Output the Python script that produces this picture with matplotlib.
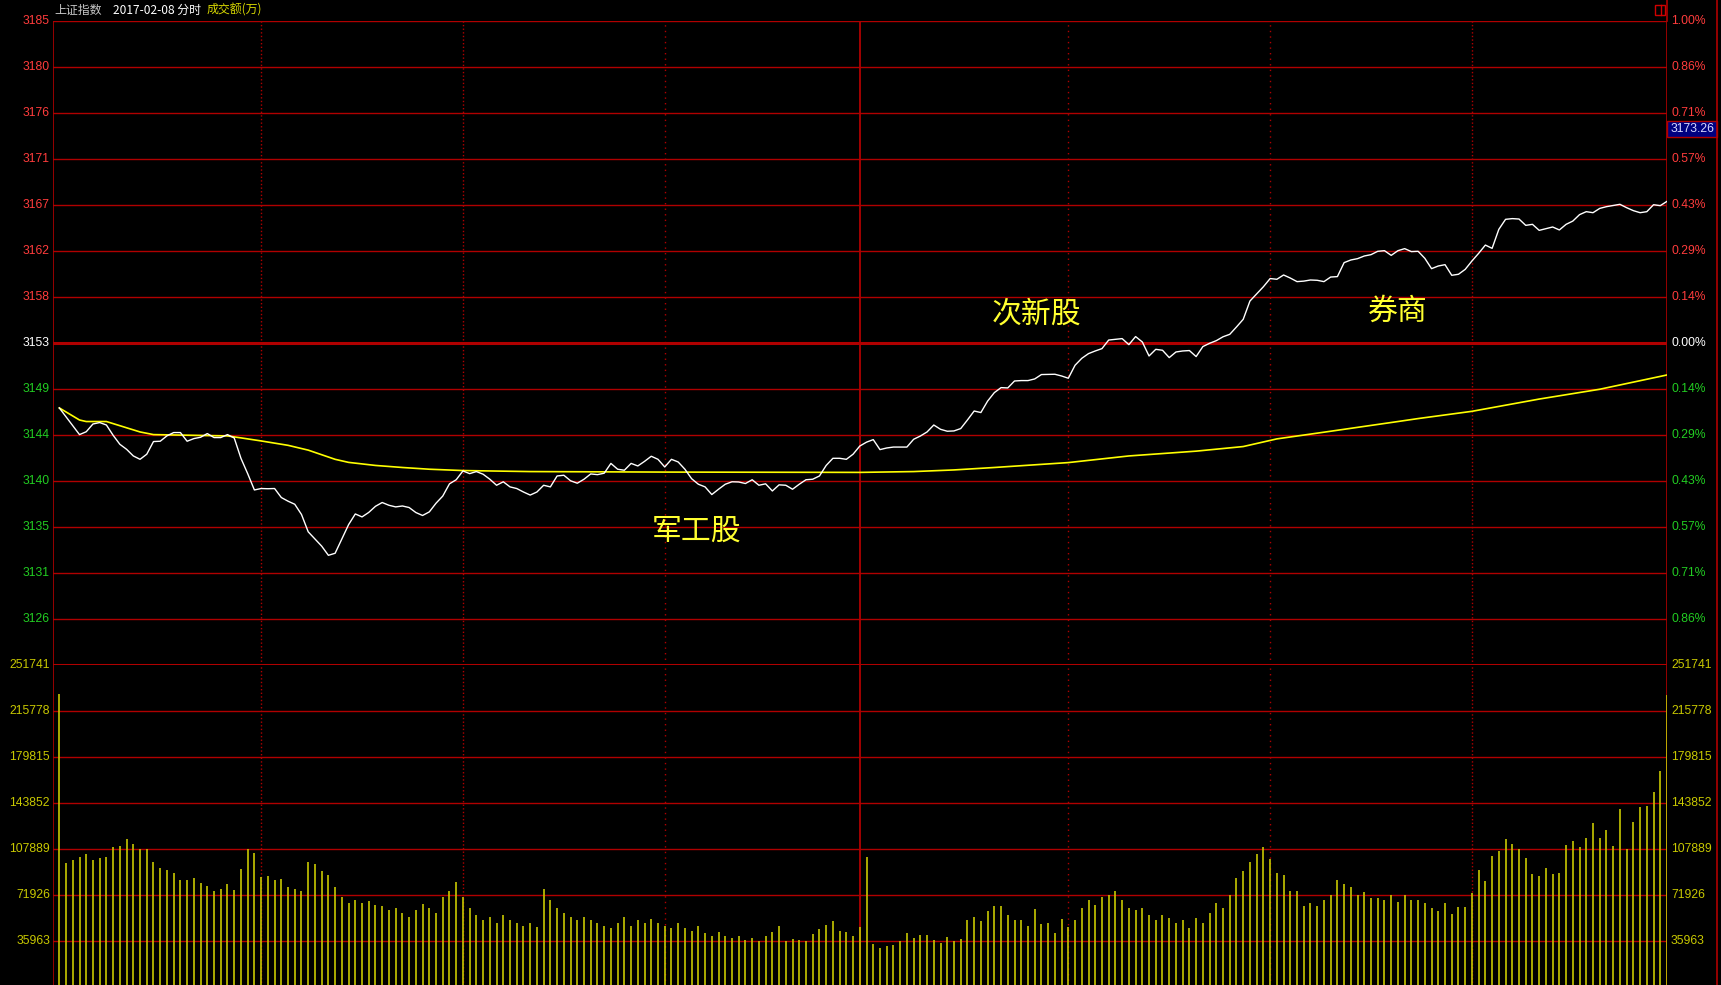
import matplotlib
matplotlib.use('Agg')
import matplotlib.pyplot as plt
from matplotlib.patches import Rectangle

W, H = 1721, 985

pre_close = 3153.09
step = pre_close * 0.01 / 7
vol_step = 35963

price_labels = ['3185', '3180', '3176', '3171', '3167', '3162', '3158', '3153',
                '3149', '3144', '3140', '3135', '3131', '3126']
pct_labels = ['1.00%', '0.86%', '0.71%', '0.57%', '0.43%', '0.29%', '0.14%', '0.00%',
              '0.14%', '0.29%', '0.43%', '0.57%', '0.71%', '0.86%']
vol_labels = ['251741', '215778', '179815', '143852', '107889', '71926', '35963']

# minute index (0..239) and index value
price_min = [0, 3, 4, 5, 6, 7, 8, 9, 10, 11, 12, 13, 14, 15, 16, 17, 18, 19, 20, 21, 22, 23, 24, 25,
             26, 27, 28, 29, 30, 31, 32, 33, 34, 35, 36, 37, 38, 39, 40, 41, 42, 43, 44, 45, 46,
             47, 48, 49, 50, 51, 52, 53, 54, 55, 56, 57, 58, 59, 60, 61, 62, 63, 64, 65, 66, 67,
             68, 69, 70, 71, 72, 73, 74, 75, 76, 77, 78, 79, 80, 81, 82, 83, 84, 85, 86, 87, 88,
             89, 90, 91, 92, 93, 94, 95, 96, 97, 98, 99, 100, 101, 102, 103, 104, 105, 106, 107,
             108, 109, 110, 111, 112, 113, 114, 115, 116, 117, 118, 119, 120, 121, 122, 123, 124,
             126, 127, 128, 129, 130, 131, 132, 133, 134, 135, 136, 137, 138, 139, 140, 141, 142,
             143, 144, 145, 146, 148, 149, 150, 151, 152, 153, 154, 155, 156, 157, 158, 159, 160,
             161, 162, 163, 164, 165, 166, 167, 168, 169, 170, 171, 172, 173, 174, 175, 176, 177,
             178, 179, 180, 181, 182, 183, 184, 185, 186, 187, 188, 189, 190, 191, 192, 193, 194,
             195, 196, 197, 198, 199, 200, 201, 202, 203, 204, 205, 206, 207, 208, 209, 210, 211,
             212, 213, 214, 215, 216, 217, 218, 219, 220, 221, 222, 223, 224, 225, 226, 227, 228,
             229, 230, 231, 232, 233, 234, 235, 236, 237, 238, 239]
price_val = [3146.73, 3144.12, 3144.40, 3145.16, 3145.30, 3145.06, 3144.05, 3143.17, 3142.68,
             3142.03, 3141.70, 3142.20, 3143.44, 3143.47, 3144.00, 3144.32, 3144.32, 3143.47,
             3143.73, 3143.86, 3144.22, 3143.83, 3143.83, 3144.12, 3143.79, 3141.80, 3140.30,
             3138.70, 3138.84, 3138.82, 3138.84, 3137.96, 3137.60, 3137.30, 3136.30, 3134.60,
             3133.90, 3133.20, 3132.30, 3132.50, 3133.90, 3135.30, 3136.35, 3136.06, 3136.50,
             3137.10, 3137.47, 3137.20, 3137.04, 3137.13, 3136.98, 3136.49, 3136.20, 3136.55,
             3137.40, 3138.10, 3139.30, 3139.70, 3140.56, 3140.30, 3140.50, 3140.24, 3139.75,
             3139.16, 3139.50, 3139.00, 3138.84, 3138.50, 3138.20, 3138.50, 3139.16, 3139.00,
             3140.07, 3140.14, 3139.60, 3139.36, 3139.75, 3140.27, 3140.20, 3140.34, 3141.30,
             3140.73, 3140.63, 3141.30, 3141.05, 3141.50, 3142.00, 3141.70, 3140.95, 3141.70,
             3141.44, 3140.73, 3139.80, 3139.26, 3139.00, 3138.25, 3138.77, 3139.26, 3139.50,
             3139.48, 3139.33, 3139.70, 3139.16, 3139.30, 3138.60, 3139.20, 3139.16, 3138.77,
             3139.26, 3139.70, 3139.75, 3140.07, 3141.10, 3141.80, 3141.80, 3141.70, 3142.20,
             3143.00, 3143.38, 3143.63, 3142.65, 3142.81, 3142.90, 3142.90, 3143.66, 3143.98,
             3144.38, 3145.06, 3144.64, 3144.45, 3144.48, 3144.71, 3145.55, 3146.43, 3146.28,
             3147.40, 3148.23, 3148.72, 3148.69, 3149.37, 3149.41, 3149.41, 3149.57, 3150.00,
             3150.03, 3149.86, 3149.64, 3150.91, 3151.59, 3152.05, 3152.31, 3152.54, 3153.38,
             3153.45, 3153.52, 3152.93, 3153.72, 3153.19, 3151.82, 3152.47, 3152.38, 3151.66,
             3152.21, 3152.31, 3152.35, 3151.76, 3152.74, 3153.06, 3153.32, 3153.70, 3153.94,
             3154.66, 3155.41, 3157.20, 3157.90, 3158.60, 3159.40, 3159.33, 3159.75, 3159.45,
             3159.10, 3159.15, 3159.26, 3159.23, 3159.10, 3159.55, 3159.59, 3160.96, 3161.22,
             3161.35, 3161.61, 3161.74, 3162.07, 3162.13, 3161.67, 3162.13, 3162.33, 3162.04,
             3162.07, 3161.38, 3160.37, 3160.63, 3160.76, 3159.72, 3159.82, 3160.30, 3161.12,
             3161.87, 3162.68, 3162.36, 3164.22, 3165.20, 3165.27, 3165.23, 3164.61, 3164.71,
             3164.12, 3164.29, 3164.45, 3164.16, 3164.71, 3165.03, 3165.66, 3165.95, 3165.85,
             3166.27, 3166.44, 3166.55, 3166.67, 3166.34, 3166.05, 3165.85, 3165.95, 3166.63,
             3166.54, 3166.96]

avg_min = [0, 3, 4, 7, 12, 14, 25, 27, 30, 34, 37, 41, 43, 47, 51, 55, 60, 70, 90, 119, 127,
           133, 139, 150, 159, 169, 176, 181, 189, 199, 202, 210, 220, 229, 239]
avg_val = [3146.73, 3145.55, 3145.40, 3145.40, 3144.38, 3144.12, 3143.99, 3143.80, 3143.50,
           3143.07, 3142.60, 3141.70, 3141.40, 3141.10, 3140.90, 3140.73, 3140.60, 3140.50,
           3140.45, 3140.42, 3140.50, 3140.66, 3140.90, 3141.38, 3142.03, 3142.50, 3142.95,
           3143.70, 3144.45, 3145.40, 3145.69, 3146.40, 3147.60, 3148.56, 3149.96]

# turnover per minute (万), one bar per minute, morning 0..119, afternoon 120..239
vol_am = [229000, 97200, 99300, 101600, 104000, 99300, 100900, 101600, 109500, 110200,     # 0
          115700, 111800, 107900, 107900, 97700, 93000, 91500, 89100, 83700, 83700,       # 10
          85200, 81300, 79000, 75100, 76600, 80500, 75800, 92300, 107900, 104800,         # 20
          86000, 86800, 83700, 84400, 78200, 76600, 75000, 98000, 96000, 91000,           # 30
          87700, 78000, 70000, 66000, 68000, 66000, 67000, 64000, 63000, 60000,           # 40
          62000, 58000, 55000, 60000, 65000, 62000, 58000, 70000, 75000, 82000,           # 50
          70000, 62000, 56000, 52000, 55000, 50000, 56000, 52000, 50000, 48000,           # 60
          50000, 47000, 77000, 68000, 62000, 58000, 55000, 52000, 55000, 52000,           # 70
          50000, 48000, 46000, 50000, 55000, 48000, 52000, 50000, 53000, 50000,           # 80
          48000, 46000, 50000, 46000, 44000, 48000, 42000, 40000, 43000, 40000,           # 90
          38000, 40000, 37000, 38000, 36000, 40000, 43000, 48000, 35960, 37530,           # 100
          36750, 35960, 41440, 45350, 48470, 51600, 43780, 43000, 39870, 46910]           # 110
vol_pm = [101630, 33620, 30490, 32050, 32840, 35960, 42220, 38310, 40650, 40650,           # 120
          36750, 34400, 39090, 35960, 37530, 52380, 54730, 51600, 59420, 63330,           # 130
          63330, 56290, 52380, 52380, 47690, 60980, 49250, 50040, 42220, 53160,           # 140
          46910, 52380, 62000, 68000, 64000, 70000, 72000, 74800, 68000, 62000,           # 150
          60000, 62000, 56000, 52000, 56000, 54000, 50000, 52000, 46000, 54000,           # 160
          50000, 58000, 65400, 62000, 72300, 85200, 91000, 98000, 104000, 109200,         # 170
          99750, 89400, 87700, 74800, 74800, 63700, 65400, 63700, 68000, 72300,           # 180
          83400, 80800, 78300, 72300, 74000, 69700, 69700, 68000, 72300, 66300,           # 190
          71930, 68020, 68020, 65410, 61760, 59420, 65670, 57070, 62540, 62540,           # 200
          73490, 91470, 82870, 102420, 106320, 115710, 111800, 107890, 100850, 88340,     # 210
          86780, 93030, 88340, 89130, 111020, 114140, 109450, 116490, 128220, 116490,     # 220
          122740, 110230, 139160, 107890, 129000, 140720, 141510, 152450, 168870, 228290]  # 230
vol = vol_am + vol_pm

red = '#b00000'
bg = '#000000'
up_col = '#ff3c3c'
dn_col = '#22cc22'
vol_col = '#c8c800'
lab_font = 'Liberation Sans'

fig = plt.figure(figsize=(W / 100, H / 100), dpi=100, facecolor=bg)

def px(x, y):
    return x / W, 1 - y / H

L, R = 53, 1667
ax = fig.add_axes([L / W, 1 - 665 / H, (R - L) / W, (665 - 21) / H])
axv = fig.add_axes([L / W, 1 - 987 / H, (R - L) / W, (987 - 665) / H])
xlim = (-0.94, 239.0)

for a in (ax, axv):
    a.set_facecolor(bg)
    a.set_xlim(*xlim)
    a.set_xticks([])
    a.set_yticks([])
    for s in a.spines.values():
        s.set_visible(False)
    a.axvline(xlim[0], color=red, lw=1.2)
    a.axvline(xlim[1], color=red, lw=1.2)
    for m in (30, 60, 210):
        a.axvline(m, color=red, lw=1.0, ls=(0, (1, 1.6)))
    for m in (90, 150, 180):
        a.axvline(m, color=red, lw=1.0, ls=(0, (1, 3)))
    # midday separator
    a.axvline(119, color=red, lw=1.3)

ax.set_ylim(pre_close - 7 * step, pre_close + 7 * step)
axv.set_ylim(0, 7 * vol_step)

for k in range(7, -8, -1):
    lw = 2.2 if k in (0, -7) else 1.0
    ax.axhline(pre_close + k * step, color=red, lw=lw)
for k in range(1, 7):
    axv.axhline(k * vol_step, color=red, lw=1.0)

# price and average lines
ax.plot(avg_min, avg_val, color='#ffff00', lw=1.2, zorder=3)
ax.plot(price_min, price_val, color='#ffffff', lw=1.0, zorder=4)

# volume bars
axv.vlines(range(len(vol)), 0, vol, color=vol_col, lw=1.2, zorder=3)

# axis labels
for n, k in enumerate(range(7, -7, -1)):
    y = 21 + n * 46
    col = up_col if k > 0 else ('#ffffff' if k == 0 else dn_col)
    fig.text(*px(50, y), price_labels[n], color=col, ha='right', va='center',
             fontsize=8.7, family=lab_font)
    fig.text(*px(1671, y), pct_labels[n], color=col, ha='left', va='center',
             fontsize=8.7, family=lab_font)
for n, lab in enumerate(vol_labels):
    y = 665 + n * 46
    fig.text(*px(50, y), lab, color=vol_col, ha='right', va='center',
             fontsize=8.7, family=lab_font)
    fig.text(*px(1671, y), lab, color=vol_col, ha='left', va='center',
             fontsize=8.7, family=lab_font)

# header
cjk = ['Noto Sans CJK SC', 'DejaVu Sans']
fig.text(*px(54, 10), '上证指数', color='#c8c8c8', ha='left', va='center', fontsize=8.6, family=cjk)
fig.text(*px(113, 10), '2017-02-08 分时', color='#ffffff', ha='left', va='center', fontsize=8.6, family=cjk)
fig.text(*px(207, 10), '成交额(万)', color='#d8d800', ha='left', va='center', fontsize=8.6, family=cjk)

# annotations
for txt, x, y in (('次新股', 1037, 314), ('军工股', 697, 531), ('券商', 1398, 311)):
    fig.text(*px(x, y), txt, color='#ffff30', ha='center', va='center', fontsize=21.5,
             family=cjk, weight='light')

# right frame line and cursor price box
fig.add_artist(plt.Line2D([1717 / W, 1717 / W], [0, 1], color=red, lw=1.2))
fig.add_artist(plt.Line2D([R / W, R / W], [1 - 21 / H, 1], color=red, lw=1.2))
fig.add_artist(Rectangle(px(1667, 137), 50 / W, 16 / H, facecolor='#000080',
                         edgecolor=red, lw=1.0))
fig.text(*px(1692, 129), '3173.26', color='#d8d8ff', ha='center', va='center',
         fontsize=8.7, family=lab_font)
fig.add_artist(Rectangle(px(1655, 15), 10 / W, 10 / H, facecolor='none', edgecolor='#d00000', lw=1.0))
fig.add_artist(plt.Line2D([1661 / W, 1661 / W], [1 - 15 / H, 1 - 5 / H], color='#d00000', lw=1.0))

fig.savefig('out.png', dpi=100, facecolor=bg)
